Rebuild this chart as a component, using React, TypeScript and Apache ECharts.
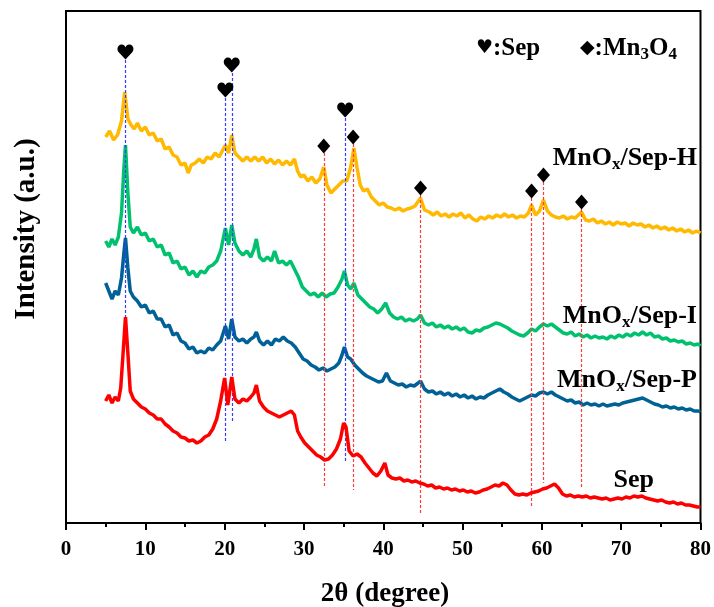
import React, { useEffect, useRef } from "react";
import * as echarts from "echarts";

const xTickValues = [0, 10, 20, 30, 40, 50, 60, 70, 80];

const seriesNames = ["MnOx/Sep-H", "MnOx/Sep-I", "MnOx/Sep-P", "Sep"];

const sepH: number[][] = [
  [5.0, 386], [5.5, 392], [6.0, 383], [6.5, 388], [7.0, 402], [7.4, 431], [7.8, 404], [8.2, 398], [8.6, 394], [9.0, 400],
  [9.5, 392], [10.0, 396], [10.5, 388], [11.0, 390], [11.5, 382], [12.0, 384], [12.5, 374], [13.0, 376], [13.5, 368], [14.0, 366],
  [14.5, 358], [15.0, 360], [15.4, 350], [15.8, 358], [16.3, 360], [16.8, 364], [17.3, 360], [17.8, 366], [18.3, 364], [18.8, 370],
  [19.3, 366], [19.7, 372], [20.1, 378], [20.5, 370], [20.9, 388], [21.3, 370], [21.8, 366], [22.3, 362], [22.8, 366], [23.3, 362],
  [23.8, 366], [24.3, 362], [24.8, 366], [25.3, 360], [25.8, 364], [26.3, 359], [26.8, 363], [27.3, 358], [27.8, 362], [28.3, 358],
  [28.8, 364], [29.2, 352], [29.6, 346], [30.0, 348], [30.5, 342], [31.0, 346], [31.5, 340], [32.0, 344], [32.5, 356], [32.9, 338],
  [33.4, 330], [33.9, 334], [34.4, 338], [34.9, 342], [35.4, 342], [35.9, 356], [36.3, 375], [36.7, 355], [37.1, 338], [37.5, 332],
  [38.0, 334], [38.5, 326], [39.0, 322], [39.5, 318], [40.0, 320], [40.5, 316], [41.0, 315], [41.5, 313], [42.0, 315], [42.5, 312],
  [43.0, 314], [43.5, 315], [44.0, 317], [44.7, 325], [45.2, 313], [45.8, 311], [46.3, 308], [46.8, 311], [47.3, 307], [47.8, 309],
  [48.3, 306], [48.8, 309], [49.3, 307], [49.8, 310], [50.3, 305], [50.8, 308], [51.3, 304], [51.8, 302], [52.3, 306], [52.8, 304],
  [53.3, 307], [53.8, 305], [54.3, 308], [54.8, 306], [55.3, 309], [55.8, 306], [56.3, 308], [56.8, 305], [57.3, 307], [57.8, 306],
  [58.3, 310], [58.7, 318], [59.2, 308], [59.7, 312], [60.2, 323], [60.7, 312], [61.2, 308], [61.7, 306], [62.2, 305], [62.7, 307],
  [63.2, 304], [63.7, 306], [64.2, 305], [64.6, 308], [65.0, 311], [65.5, 303], [66.0, 302], [66.5, 304], [67.0, 300], [67.5, 302],
  [68.0, 299], [68.5, 301], [69.0, 298], [69.5, 301], [70.0, 299], [70.5, 300], [71.0, 297], [71.5, 300], [72.0, 298], [72.5, 299],
  [73.0, 296], [73.5, 298], [74.0, 295], [74.5, 297], [75.0, 294], [75.5, 296], [76.0, 293], [76.5, 295], [77.0, 292], [77.5, 294],
  [78.0, 291], [78.5, 293], [79.0, 290], [79.5, 292], [80.0, 290],
];

const sepI: number[][] = [
  [5.0, 282], [5.4, 276], [5.8, 284], [6.2, 278], [6.6, 286], [7.0, 310], [7.3, 355], [7.5, 378], [7.8, 330], [8.1, 296],
  [8.5, 290], [9.0, 296], [9.5, 288], [10.0, 290], [10.5, 282], [11.0, 284], [11.5, 276], [12.0, 278], [12.5, 268], [13.0, 270],
  [13.5, 260], [14.0, 262], [14.5, 254], [15.0, 256], [15.5, 248], [16.0, 252], [16.5, 246], [17.0, 252], [17.5, 250], [18.0, 256],
  [18.5, 258], [19.0, 262], [19.5, 272], [20.1, 295], [20.5, 278], [20.9, 298], [21.3, 280], [21.8, 272], [22.3, 268], [22.8, 272],
  [23.3, 266], [23.7, 274], [24.0, 284], [24.4, 266], [24.9, 262], [25.4, 266], [25.9, 262], [26.3, 272], [26.8, 260], [27.3, 262],
  [27.8, 258], [28.3, 262], [28.8, 254], [29.3, 246], [29.8, 236], [30.3, 232], [30.8, 228], [31.3, 230], [31.8, 226], [32.3, 230],
  [32.8, 226], [33.3, 229], [33.8, 230], [34.3, 236], [34.8, 244], [35.1, 252], [35.5, 238], [35.9, 234], [36.3, 240], [36.8, 228],
  [37.3, 224], [37.8, 220], [38.3, 216], [38.8, 214], [39.3, 210], [39.8, 214], [40.3, 220], [40.8, 210], [41.3, 206], [41.8, 204],
  [42.3, 206], [42.8, 202], [43.3, 204], [43.8, 202], [44.3, 204], [44.7, 208], [45.2, 200], [45.7, 198], [46.2, 200], [46.7, 196],
  [47.2, 198], [47.7, 195], [48.2, 197], [48.7, 194], [49.2, 196], [49.7, 193], [50.2, 195], [50.7, 191], [51.2, 190], [51.7, 193],
  [52.2, 192], [52.7, 195], [53.2, 196], [53.7, 198], [54.2, 200], [54.7, 199], [55.2, 197], [55.7, 195], [56.2, 192], [56.7, 190],
  [57.2, 188], [57.7, 187], [58.2, 190], [58.7, 194], [59.2, 192], [59.7, 196], [60.2, 199], [60.7, 197], [61.2, 199], [61.7, 196],
  [62.2, 193], [62.7, 190], [63.2, 189], [63.7, 191], [64.2, 187], [64.7, 189], [65.2, 186], [65.7, 188], [66.2, 185], [66.7, 187],
  [67.2, 185], [67.7, 186], [68.2, 184], [68.7, 187], [69.2, 185], [69.7, 188], [70.2, 186], [70.7, 189], [71.2, 187], [71.7, 190],
  [72.2, 188], [72.7, 191], [73.2, 188], [73.7, 190], [74.2, 186], [74.7, 187], [75.2, 184], [75.7, 185], [76.2, 182], [76.7, 183],
  [77.2, 181], [77.7, 182], [78.2, 179], [78.7, 180], [79.2, 178], [79.7, 179], [80.0, 177],
];

const sepP: number[][] = [
  [5.0, 240], [5.4, 232], [5.8, 224], [6.2, 232], [6.6, 228], [7.0, 245], [7.3, 270], [7.5, 285], [7.8, 255], [8.1, 232],
  [8.5, 226], [9.0, 222], [9.5, 216], [10.0, 218], [10.5, 210], [11.0, 212], [11.5, 204], [12.0, 204], [12.5, 196], [13.0, 198],
  [13.5, 188], [14.0, 190], [14.5, 182], [15.0, 180], [15.5, 174], [16.0, 176], [16.5, 170], [17.0, 172], [17.5, 170], [18.0, 175],
  [18.5, 173], [19.0, 178], [19.5, 182], [20.1, 197], [20.5, 184], [20.9, 204], [21.3, 186], [21.8, 182], [22.3, 184], [22.8, 180],
  [23.3, 184], [23.7, 186], [24.0, 191], [24.4, 182], [24.9, 178], [25.4, 182], [25.9, 178], [26.4, 184], [26.9, 182], [27.4, 186],
  [27.9, 182], [28.4, 180], [28.9, 176], [29.4, 170], [29.9, 164], [30.4, 162], [30.9, 158], [31.4, 156], [31.9, 153], [32.4, 155],
  [32.9, 152], [33.4, 154], [33.9, 156], [34.4, 160], [34.8, 168], [35.1, 176], [35.5, 166], [35.9, 164], [36.4, 158], [36.9, 154],
  [37.4, 150], [37.9, 147], [38.4, 145], [38.9, 143], [39.4, 141], [39.9, 142], [40.4, 150], [40.9, 142], [41.4, 140], [41.9, 138],
  [42.4, 139], [42.9, 136], [43.4, 138], [43.9, 137], [44.4, 140], [44.7, 142], [45.2, 134], [45.7, 131], [46.2, 132], [46.7, 129],
  [47.2, 131], [47.7, 128], [48.2, 130], [48.7, 127], [49.2, 129], [49.7, 126], [50.2, 128], [50.7, 125], [51.2, 127], [51.7, 124],
  [52.2, 126], [52.7, 125], [53.2, 128], [53.7, 130], [54.2, 132], [54.7, 134], [55.2, 131], [55.7, 129], [56.2, 126], [56.7, 124],
  [57.2, 122], [57.7, 124], [58.2, 126], [58.7, 128], [59.2, 127], [59.7, 130], [60.2, 131], [60.7, 129], [61.2, 131], [61.7, 128],
  [62.2, 126], [62.7, 124], [63.2, 122], [63.7, 123], [64.2, 120], [64.7, 121], [65.2, 118], [65.7, 120], [66.2, 118], [66.7, 119],
  [67.2, 117], [67.7, 119], [68.2, 117], [68.7, 118], [69.2, 119], [69.7, 118], [70.2, 120], [70.7, 121], [71.2, 122], [71.7, 123],
  [72.2, 124], [72.7, 125], [73.2, 123], [73.7, 121], [74.2, 119], [74.7, 118], [75.2, 116], [75.7, 117], [76.2, 115], [76.7, 116],
  [77.2, 114], [77.7, 115], [78.2, 113], [78.7, 114], [79.2, 112], [79.7, 112], [80.0, 111],
];

const sep: number[][] = [
  [5.0, 122], [5.4, 128], [5.8, 120], [6.2, 126], [6.6, 122], [6.9, 135], [7.2, 170], [7.5, 206], [7.8, 170], [8.1, 132],
  [8.5, 124], [9.0, 120], [9.5, 116], [10.0, 114], [10.5, 110], [11.0, 108], [11.5, 104], [12.0, 104], [12.5, 99], [13.0, 96],
  [13.5, 92], [14.0, 90], [14.5, 86], [15.0, 85], [15.5, 82], [16.0, 83], [16.5, 80], [17.0, 82], [17.5, 86], [18.0, 88],
  [18.5, 94], [19.0, 104], [19.5, 122], [20.0, 145], [20.4, 118], [20.9, 146], [21.3, 124], [21.8, 120], [22.3, 124], [22.8, 122],
  [23.3, 126], [23.7, 130], [24.0, 138], [24.4, 122], [24.9, 116], [25.4, 112], [25.9, 110], [26.4, 108], [26.9, 106], [27.4, 108],
  [27.9, 110], [28.4, 112], [28.8, 108], [29.2, 92], [29.6, 86], [30.1, 80], [30.6, 76], [31.1, 72], [31.6, 68], [32.1, 66],
  [32.6, 63], [33.1, 64], [33.6, 68], [34.1, 74], [34.6, 84], [35.0, 100], [35.3, 96], [35.7, 72], [36.2, 67], [36.7, 69],
  [37.2, 66], [37.7, 60], [38.2, 55], [38.7, 50], [39.2, 47], [39.7, 52], [40.2, 60], [40.6, 48], [41.1, 45], [41.6, 44],
  [42.1, 45], [42.6, 42], [43.1, 43], [43.6, 41], [44.1, 42], [44.6, 40], [45.1, 39], [45.6, 37], [46.1, 38], [46.6, 35],
  [47.1, 36], [47.6, 34], [48.1, 35], [48.6, 33], [49.1, 34], [49.6, 32], [50.1, 33], [50.6, 31], [51.1, 32], [51.6, 30],
  [52.1, 31], [52.6, 33], [53.1, 34], [53.6, 36], [54.1, 38], [54.6, 37], [55.1, 40], [55.6, 38], [56.1, 33], [56.6, 29],
  [57.1, 28], [57.6, 29], [58.1, 28], [58.6, 30], [59.1, 31], [59.6, 32], [60.1, 34], [60.6, 35], [61.1, 37], [61.6, 39],
  [62.1, 35], [62.6, 29], [63.1, 27], [63.6, 28], [64.1, 26], [64.6, 27], [65.1, 26], [65.6, 27], [66.1, 25], [66.6, 26],
  [67.1, 25], [67.6, 24], [68.1, 25], [68.6, 23], [69.1, 24], [69.6, 25], [70.1, 24], [70.6, 26], [71.1, 25], [71.6, 27],
  [72.1, 26], [72.6, 27], [73.1, 25], [73.6, 24], [74.1, 23], [74.6, 22], [75.1, 23], [75.6, 21], [76.1, 20], [76.6, 21],
  [77.1, 19], [77.6, 20], [78.1, 18], [78.6, 18], [79.1, 17], [79.6, 16], [80.0, 16],
];

// heart markers (Sep peaks): [2θ, marker height]
const heartMarks: number[][] = [[7.5, 471], [20.1, 433], [20.9, 458], [35.2, 413]];
// diamond markers (Mn3O4 peaks)
const diamondMarks: number[][] = [[32.5, 377], [36.2, 386], [44.7, 335], [58.7, 332], [60.2, 348], [65.0, 321]];
// reference lines: [2θ, top, bottom]
const sepLines: number[][] = [[7.5, 463, 193], [20.1, 425, 81], [20.9, 450, 100], [35.2, 405, 60]];
const mnLines: number[][] = [[32.5, 370, 36], [36.2, 379, 33], [44.7, 328, 10], [58.7, 325, 16], [60.2, 341, 40], [65.0, 314, 36]];

const colors = ["#FFB900", "#00C16E", "#006196", "#FF0000"];
const SERIF = "'Liberation Serif', 'Times New Roman', serif";
const HEART = "path://M50 92 L10 52 C-4 38 2 10 26 8 C38 7 46 14 50 24 C54 14 62 7 74 8 C98 10 104 38 90 52 Z";

export default function App() {
  const ref = useRef<HTMLDivElement>(null);
  useEffect(() => {
    if (!ref.current) return;
    const chart = echarts.init(ref.current, null, { renderer: "svg" });
    const datasets = [sepH, sepI, sepP, sep];
    const labelRich = {
      m: { fontSize: 26, fontWeight: "bold", fontFamily: SERIF, color: "#000" },
      s: { fontSize: 17, fontWeight: "bold", fontFamily: SERIF, color: "#000", padding: [15, 0, 0, 0] },
    };
    const legendRich = {
      m: { fontSize: 25, fontWeight: "bold", fontFamily: SERIF, color: "#000" },
      s: { fontSize: 17, fontWeight: "bold", fontFamily: SERIF, color: "#000", padding: [14, 0, 0, 0] },
      h: { fontSize: 19, fontFamily: "'DejaVu Sans'", color: "#000" },
    };
    const labelText = (name: string) => {
      if (name.startsWith("MnOx")) return "{m|MnO}{s|x}{m|" + name.slice(4) + "}";
      return "{m|" + name + "}";
    };
    const labelPos = [
      [697, 156],
      [697, 314],
      [697, 378],
      [654, 478],
    ];
    const markLineData = [
      ...sepLines.map((l) => [
        { coord: [l[0], l[1]], lineStyle: { color: "#3B3BFF", type: [3, 2], width: 1.2 } },
        { coord: [l[0], l[2]] },
      ]),
      ...mnLines.map((l) => [
        { coord: [l[0], l[1]], lineStyle: { color: "#FF3B3B", type: [3, 2], width: 1.2 } },
        { coord: [l[0], l[2]] },
      ]),
    ];
    chart.setOption({
      animation: false,
      grid: { left: 66, right: 12, top: 11, bottom: 84, show: true, borderColor: "#000", borderWidth: 2 },
      xAxis: {
        type: "value",
        min: 0,
        max: 80,
        interval: 10,
        axisLine: { show: true, lineStyle: { color: "#000", width: 2 } },
        axisTick: { show: true, inside: false, length: 7, lineStyle: { color: "#000", width: 2 } },
        minorTick: { show: true, splitNumber: 2, length: 4, lineStyle: { color: "#000", width: 2 } },
        splitLine: { show: false },
        axisLabel: {
          color: "#000",
          fontSize: 21,
          fontWeight: "bold",
          fontFamily: SERIF,
          margin: 14,
          formatter: (v: number) => (xTickValues.includes(v) ? String(v) : ""),
        },
      },
      yAxis: {
        type: "value",
        min: 0,
        max: 512,
        axisLine: { show: true, lineStyle: { color: "#000", width: 2 } },
        axisTick: { show: false },
        axisLabel: { show: false },
        splitLine: { show: false },
      },
      series: [
        ...datasets.map((d, i) => ({
          name: seriesNames[i],
          type: "line",
          data: d,
          showSymbol: false,
          symbol: "none",
          lineStyle: { color: colors[i], width: 3.5 },
          itemStyle: { color: colors[i] },
          z: 2 + i,
        })),
        {
          type: "scatter",
          data: heartMarks,
          symbol: HEART,
          symbolSize: [16, 15],
          itemStyle: { color: "#000", opacity: 1 },
          z: 10,
          silent: true,
        },
        {
          type: "scatter",
          data: diamondMarks,
          symbol: "diamond",
          symbolSize: [13, 15],
          itemStyle: { color: "#000", opacity: 1 },
          z: 10,
          silent: true,
        },
        {
          type: "line",
          data: [],
          z: 9,
          markLine: { silent: true, symbol: "none", label: { show: false }, data: markLineData },
        },
      ],
      graphic: [
        ...seriesNames.map((n, i) => ({
          type: "text",
          x: labelPos[i][0],
          y: labelPos[i][1],
          z: 20,
          style: { text: labelText(n), rich: labelRich, align: "right", verticalAlign: "middle" },
        })),
        {
          type: "text",
          x: 476,
          y: 46,
          z: 20,
          style: { text: "{h|♥}{m|:Sep}", rich: legendRich, align: "left", verticalAlign: "middle" },
        },
        {
          type: "text",
          x: 580,
          y: 46,
          z: 20,
          style: { text: "{h|◆}{m|:Mn}{s|3}{m|O}{s|4}", rich: legendRich, align: "left", verticalAlign: "middle" },
        },
        {
          type: "text",
          x: 385,
          y: 592,
          style: {
            text: "2θ (degree)",
            fontSize: 27,
            fontWeight: "bold",
            fontFamily: SERIF,
            fill: "#000",
            align: "center",
            verticalAlign: "middle",
          },
        },
        {
          type: "text",
          x: 24,
          y: 229,
          rotation: Math.PI / 2,
          style: {
            text: "Intensity (a.u.)",
            fontSize: 29,
            fontWeight: "bold",
            fontFamily: SERIF,
            fill: "#000",
            align: "center",
            verticalAlign: "middle",
          },
        },
      ],
    });
    return () => chart.dispose();
  }, []);
  return <div ref={ref} style={{ position: "fixed", left: 0, top: 0, width: 714, height: 607 }} />;
}
